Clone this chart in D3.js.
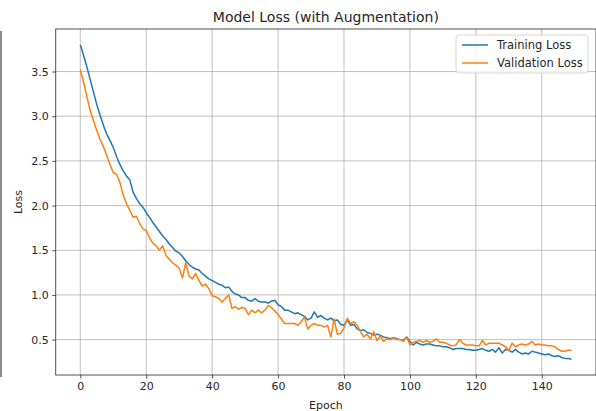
<!DOCTYPE html>
<html>
<head>
<meta charset="utf-8">
<script src="https://cdn.jsdelivr.net/npm/d3@7"></script>
<style>
    body { margin: 0; background: white; }
    text { font-family: "DejaVu Sans", sans-serif; fill: #262626; }
</style>
</head>
<body>
<div id="chart"></div>
<script>
//
// Data
//
var trainLoss = [
    3.80, 3.68, 3.55, 3.41, 3.27, 3.13, 3.01, 2.90, 2.80, 2.73,
    2.65, 2.55, 2.46, 2.39, 2.33, 2.29, 2.15, 2.08, 2.02, 1.98,
    1.92, 1.87, 1.81, 1.76, 1.71, 1.66, 1.62, 1.57, 1.53, 1.49,
    1.47, 1.43, 1.38, 1.34, 1.31, 1.29, 1.28, 1.24, 1.21, 1.18,
    1.16, 1.14, 1.12, 1.11, 1.08, 1.09, 1.04, 1.01, 1.00, 0.97,
    0.97, 0.94, 0.93, 0.96, 0.93, 0.92, 0.92, 0.91, 0.93, 0.94,
    0.89, 0.87, 0.83, 0.83, 0.81, 0.79, 0.80, 0.78, 0.76, 0.72,
    0.74, 0.81, 0.75, 0.77, 0.74, 0.72, 0.74, 0.71, 0.72, 0.67,
    0.66, 0.72, 0.66, 0.67, 0.62, 0.60, 0.61, 0.58, 0.57, 0.55,
    0.56, 0.55, 0.53, 0.52, 0.51, 0.52, 0.51, 0.50, 0.49, 0.53,
    0.48, 0.44, 0.47, 0.45, 0.44, 0.45, 0.45, 0.44, 0.43, 0.43,
    0.42, 0.42, 0.41, 0.39, 0.40, 0.40, 0.40, 0.39, 0.39, 0.38,
    0.38, 0.39, 0.40, 0.38, 0.37, 0.39, 0.36, 0.41, 0.35, 0.39,
    0.38, 0.36, 0.39, 0.36, 0.34, 0.35, 0.34, 0.37, 0.36, 0.35,
    0.34, 0.33, 0.34, 0.32, 0.31, 0.32, 0.30, 0.29, 0.29, 0.28
];

var valLoss = [
    3.52, 3.38, 3.22, 3.06, 2.95, 2.84, 2.74, 2.66, 2.56, 2.46,
    2.37, 2.35, 2.26, 2.12, 2.02, 1.95, 1.87, 1.88, 1.80, 1.74,
    1.72, 1.64, 1.58, 1.55, 1.50, 1.55, 1.44, 1.40, 1.36, 1.33,
    1.30, 1.19, 1.36, 1.21, 1.18, 1.24, 1.16, 1.10, 1.12, 1.07,
    0.99, 0.98, 0.96, 0.92, 0.96, 1.00, 0.85, 0.87, 0.84, 0.86,
    0.85, 0.78, 0.83, 0.80, 0.83, 0.80, 0.83, 0.88, 0.86, 0.82,
    0.78, 0.73, 0.68, 0.68, 0.68, 0.68, 0.66, 0.70, 0.75, 0.62,
    0.66, 0.68, 0.66, 0.66, 0.64, 0.66, 0.53, 0.73, 0.56, 0.57,
    0.63, 0.74, 0.68, 0.70, 0.66, 0.59, 0.53, 0.56, 0.51, 0.59,
    0.49, 0.54, 0.48, 0.51, 0.50, 0.52, 0.50, 0.50, 0.48, 0.53,
    0.44, 0.47, 0.48, 0.49, 0.47, 0.49, 0.47, 0.48, 0.51, 0.47,
    0.47, 0.46, 0.44, 0.43, 0.44, 0.50, 0.46, 0.44, 0.44, 0.44,
    0.43, 0.43, 0.49, 0.44, 0.46, 0.46, 0.46, 0.46, 0.44, 0.42,
    0.38, 0.46, 0.42, 0.44, 0.45, 0.44, 0.45, 0.48, 0.44, 0.45,
    0.44, 0.44, 0.43, 0.43, 0.42, 0.39, 0.37, 0.37, 0.38, 0.38
];

var seriesNames = ["Training Loss", "Validation Loss"];
var seriesColors = ["#1f77b4", "#ff7f0e"];
var xTicks = [0, 20, 40, 60, 80, 100, 120, 140];
var yTicks = [0.5, 1.0, 1.5, 2.0, 2.5, 3.0, 3.5];

//
// Layout
//
var W = 596, H = 411;
var plot = {left: 55.75, right: 596, top: 29, bottom: 375};

var svg = d3.select("#chart").append("svg")
    .attr("width", W)
    .attr("height", H);

// matplotlib style 5% padding on both axes
var n = trainLoss.length;
var xPad = (n - 1) * 0.05;
var allVals = trainLoss.concat(valLoss);
var yMin = d3.min(allVals), yMax = d3.max(allVals);
var yPad = (yMax - yMin) * 0.05;

var x = d3.scaleLinear()
    .domain([-xPad, n - 1 + xPad])
    .range([plot.left, plot.right]);
var y = d3.scaleLinear()
    .domain([yMin - yPad, yMax + yPad])
    .range([plot.bottom, plot.top]);

// stray border line at the left edge of the picture
svg.append("line")
    .attr("x1", 1).attr("x2", 1)
    .attr("y1", 31).attr("y2", 377)
    .attr("stroke", "#666")
    .attr("stroke-width", 1.5);

// grid
var grid = svg.append("g").attr("class", "grid");
grid.selectAll("line.gx")
    .data(xTicks)
    .enter().append("line")
    .attr("x1", function(d) { return x(d); })
    .attr("x2", function(d) { return x(d); })
    .attr("y1", plot.top)
    .attr("y2", plot.bottom)
    .attr("stroke", "#b0b0b0")
    .attr("stroke-width", 0.8);
grid.selectAll("line.gy")
    .data(yTicks)
    .enter().append("line")
    .attr("x1", plot.left)
    .attr("x2", plot.right)
    .attr("y1", function(d) { return y(d); })
    .attr("y2", function(d) { return y(d); })
    .attr("stroke", "#b0b0b0")
    .attr("stroke-width", 0.8);

// axes
var xAxis = svg.append("g")
    .attr("transform", "translate(0," + plot.bottom + ")")
    .call(d3.axisBottom(x).tickValues(xTicks).tickSize(3.5).tickPadding(3.5).tickFormat(d3.format("d")));
var yAxis = svg.append("g")
    .attr("transform", "translate(" + plot.left + ",0)")
    .call(d3.axisLeft(y).tickValues(yTicks).tickSize(3.5).tickPadding(3.5).tickFormat(d3.format(".1f")));

[xAxis, yAxis].forEach(function(a) {
    a.select(".domain").remove();
    a.selectAll("line").attr("stroke", "#262626").attr("stroke-width", 0.8);
    a.selectAll("text")
        .style("font-family", "DejaVu Sans, sans-serif")
        .style("font-size", "11px")
        .attr("fill", "#262626");
});

// lines
var line = d3.line()
    .x(function(d, i) { return x(i); })
    .y(function(d) { return y(d); });

[trainLoss, valLoss].forEach(function(s, k) {
    svg.append("path")
        .datum(s)
        .attr("fill", "none")
        .attr("stroke", seriesColors[k])
        .attr("stroke-width", 1.5)
        .attr("stroke-linejoin", "round")
        .attr("d", line);
});

// frame
svg.append("rect")
    .attr("x", plot.left)
    .attr("y", plot.top)
    .attr("width", plot.right - plot.left)
    .attr("height", plot.bottom - plot.top)
    .attr("fill", "none")
    .attr("stroke", "#262626")
    .attr("stroke-width", 0.8);

// title + labels
svg.append("text")
    .attr("x", (plot.left + plot.right) / 2)
    .attr("y", 22)
    .attr("text-anchor", "middle")
    .style("font-size", "14px")
    .text("Model Loss (with Augmentation)");

svg.append("text")
    .attr("x", (plot.left + plot.right) / 2)
    .attr("y", 409)
    .attr("text-anchor", "middle")
    .style("font-size", "11px")
    .text("Epoch");

svg.append("text")
    .attr("transform", "translate(22," + ((plot.top + plot.bottom) / 2) + ") rotate(-90)")
    .attr("text-anchor", "middle")
    .style("font-size", "11px")
    .text("Loss");

// legend
var leg = svg.append("g").attr("transform", "translate(456,35)");
leg.append("rect")
    .attr("width", 132)
    .attr("height", 38)
    .attr("rx", 3)
    .attr("fill", "white")
    .attr("fill-opacity", 0.8)
    .attr("stroke", "#cccccc")
    .attr("stroke-width", 0.8);

seriesNames.forEach(function(name, k) {
    var yy = 10 + k * 18;
    leg.append("line")
        .attr("x1", 6).attr("x2", 32)
        .attr("y1", yy).attr("y2", yy)
        .attr("stroke", seriesColors[k])
        .attr("stroke-width", 1.5);
    leg.append("text")
        .attr("x", 41)
        .attr("y", yy + 4)
        .style("font-size", "11.5px")
        .text(name);
});
</script>
</body>
</html>
